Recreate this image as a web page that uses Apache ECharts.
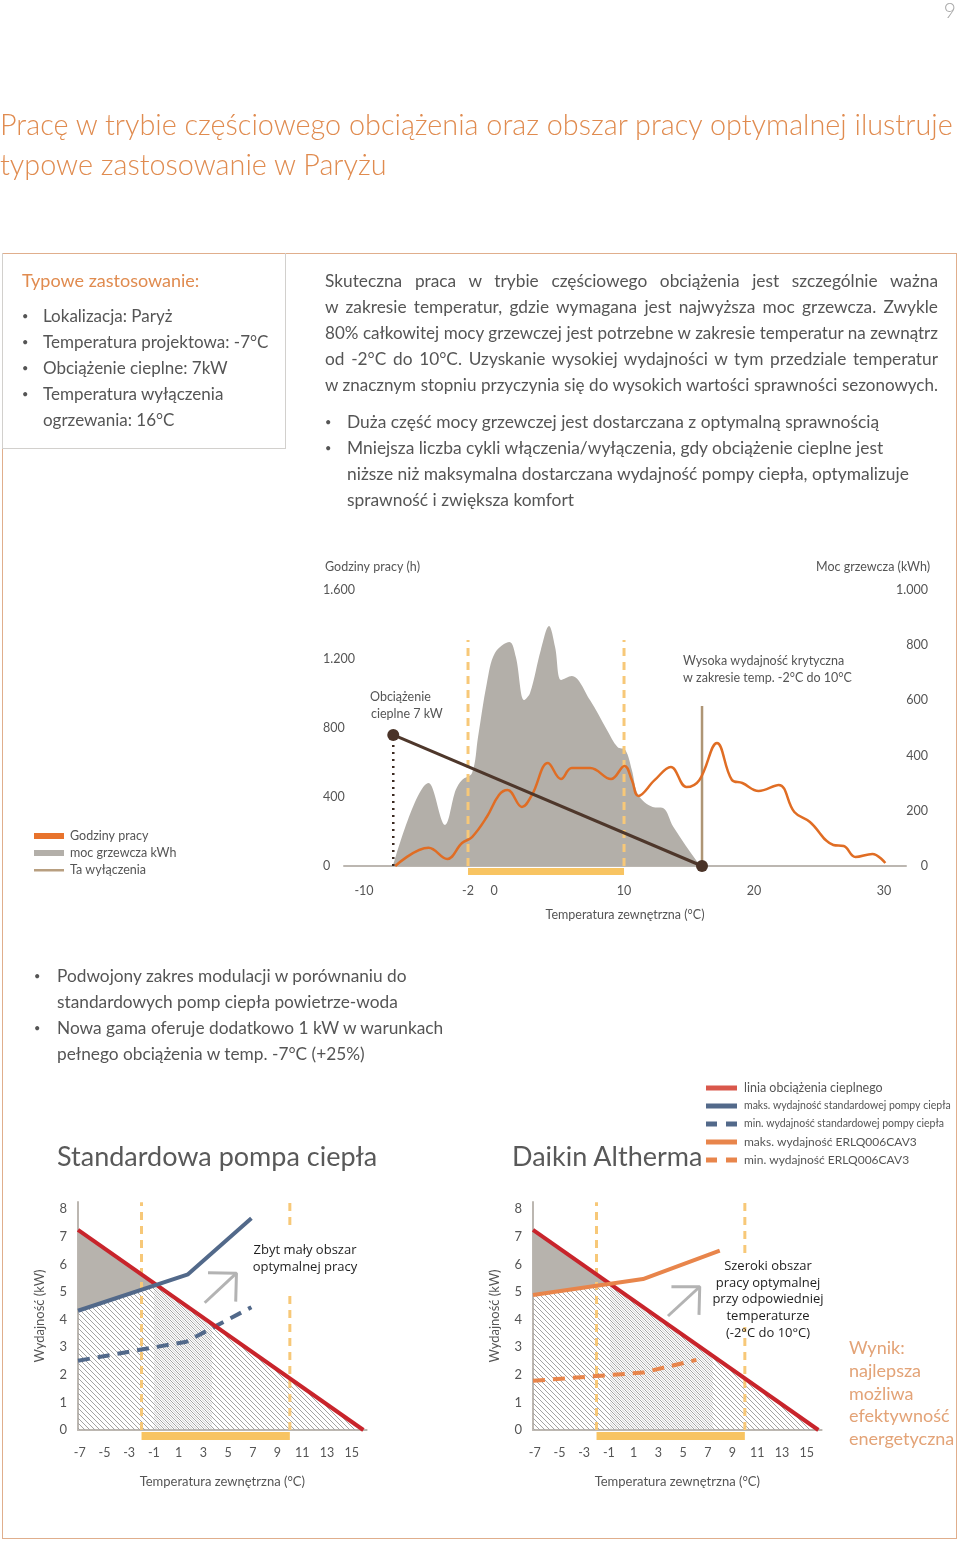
<!DOCTYPE html>
<html><head><meta charset="utf-8">
<script src="https://cdn.jsdelivr.net/npm/echarts@6.0.0/dist/echarts.min.js"></script>
<style>
html,body{margin:0;padding:0;background:#fff;}
#page{position:relative;width:960px;height:1546px;overflow:hidden;font-family:Lato,'Open Sans',sans-serif;color:#555;}
#chart{position:absolute;left:0;top:0;width:960px;height:1546px;}
.t{position:absolute;white-space:nowrap;}
.j{position:absolute;white-space:nowrap;text-align:justify;text-align-last:justify;width:613px;left:325px;font-size:17.3px;line-height:26px;}
.b{position:absolute;font-size:11px;}
</style></head><body><div id="page">
<div id="chart"></div>
<div style="position:absolute;left:2px;top:253px;width:955px;height:1286px;box-sizing:border-box;border:1.5px solid #e0ae8c;"></div>
<div style="position:absolute;left:2px;top:253px;width:284px;height:196px;box-sizing:border-box;border:1.5px solid #d2d0cd;border-top:none;"></div>

<div class="t" style="right:4px;top:-3px;font-size:21px;color:#a9a9a9;font-weight:300;">9</div>
<div class="t" style="left:0;top:104px;font-size:28.8px;line-height:40px;color:#e08b4f;font-weight:300;">Pracę w trybie częściowego obciążenia oraz obszar pracy optymalnej ilustruje</div>
<div class="t" style="left:0;top:144px;font-size:28.8px;line-height:40px;color:#e08b4f;font-weight:300;">typowe zastosowanie w Paryżu</div>

<div class="t" style="left:22px;top:267px;font-size:18px;line-height:26px;color:#e08b4f;">Typowe zastosowanie:</div>
<div style="position:absolute;left:22px;top:303px;font-size:17px;line-height:26px;">
<div style="position:relative;padding-left:21px;"><span class="b" style="left:0;">•</span>Lokalizacja: Paryż</div>
<div style="position:relative;padding-left:21px;"><span class="b" style="left:0;">•</span>Temperatura projektowa: -7°C</div>
<div style="position:relative;padding-left:21px;"><span class="b" style="left:0;">•</span>Obciążenie cieplne: 7kW</div>
<div style="position:relative;padding-left:21px;"><span class="b" style="left:0;">•</span>Temperatura wyłączenia</div>
<div style="position:relative;padding-left:21px;">ogrzewania: 16°C</div>
</div>

<div class="j" style="top:268px;">Skuteczna praca w trybie częściowego obciążenia jest szczególnie ważna</div>
<div class="j" style="top:294px;">w zakresie temperatur, gdzie wymagana jest najwyższa moc grzewcza. Zwykle</div>
<div class="j" style="top:320px;">80% całkowitej mocy grzewczej jest potrzebne w zakresie temperatur na zewnątrz</div>
<div class="j" style="top:346px;">od -2°C do 10°C. Uzyskanie wysokiej wydajności w tym przedziale temperatur</div>
<div class="j" style="top:372px;">w znacznym stopniu przyczynia się do wysokich wartości sprawności sezonowych.</div>

<div style="position:absolute;left:325px;top:409px;font-size:17.4px;line-height:26px;">
<div style="position:relative;padding-left:22px;"><span class="b" style="left:0;">•</span>Duża część mocy grzewczej jest dostarczana z optymalną sprawnością</div>
<div style="position:relative;padding-left:22px;"><span class="b" style="left:0;">•</span>Mniejsza liczba cykli włączenia/wyłączenia, gdy obciążenie cieplne jest</div>
<div style="position:relative;padding-left:22px;">niższe niż maksymalna dostarczana wydajność pompy ciepła, optymalizuje</div>
<div style="position:relative;padding-left:22px;">sprawność i zwiększa komfort</div>
</div>

<div style="position:absolute;left:34px;top:963px;font-size:17.3px;line-height:26px;">
<div style="position:relative;padding-left:23px;"><span class="b" style="left:0;">•</span>Podwojony zakres modulacji w porównaniu do</div>
<div style="position:relative;padding-left:23px;">standardowych pomp ciepła powietrze-woda</div>
<div style="position:relative;padding-left:23px;"><span class="b" style="left:0;">•</span>Nowa gama oferuje dodatkowo 1 kW w warunkach</div>
<div style="position:relative;padding-left:23px;">pełnego obciążenia w temp. -7°C (+25%)</div>
</div>

<div class="t" style="left:57px;top:1139px;font-size:27px;line-height:34px;color:#595959;">Standardowa pompa ciepła</div>
<div class="t" style="left:512px;top:1139px;font-size:27px;line-height:34px;color:#595959;">Daikin Altherma</div>
<div class="t" style="left:849px;top:1336px;font-size:18px;line-height:22.75px;color:#e3a377;">Wynik:<br>najlepsza<br>możliwa<br>efektywność<br>energetyczna</div>
</div>
<script>
// fit justified paragraph lines into their 613px column
document.querySelectorAll('.j').forEach(el=>{
  el.style.width='auto'; el.style.display='inline-block'; el.style.textAlignLast='auto';
  const w = el.offsetWidth;
  if (w > 611) el.style.fontSize = (17.3*611/w).toFixed(2)+'px';
  el.style.width='613px'; el.style.display='block'; el.style.textAlignLast='justify';
});

// ---------- main chart data ----------
const mainXTicks = [-10, -2, 0, 10, 20, 30];
const heatingKWh = [[-7.77,0],[-5.03,301],[-3.77,149],[-2.95,275],[-2.46,312],[-1.69,337],[-1.23,467],[-0.55,663],[0.07,772],[1.19,812],[1.68,757],[2.31,601],[2.77,627],[3.6,783],[4.23,870],[4.7,793],[5.17,674],[5.98,688],[7.38,601],[8.69,493],[9.5,431],[10.1,420],[10.6,348],[11.1,257],[12.2,214],[13.0,210],[13.8,141],[15.7,11],[16,0]];
const operatingHours = [[-7.6,0],[-5.03,106],[-3.6,41],[-2.46,133],[-1.69,168],[-0.56,284],[0.38,412],[1.04,441],[2.15,342],[2.92,412],[4.15,597],[5.15,504],[5.98,568],[7.4,568],[9.0,504],[10.04,580],[10.6,499],[11.1,406],[12.37,499],[13.6,574],[14.8,458],[15.8,499],[17.15,713],[18.3,499],[19.1,481],[20.35,435],[21.9,470],[23.1,313],[24.3,255],[26.1,122],[26.9,116],[27.8,52],[29.1,70],[30.1,17]];
const heatLoad7kW = [[-7.75,760],[16,0]];
const optimalRange = [-2, 10];
const optimalDashTop = 1310;
const cutoffTemp = 16;
const cutoffTop = 928;

// ---------- bottom charts data ----------
const bottomXTicks = [-7,-5,-3,-1,1,3,5,7,9,11,13,15];
const bottomYTicks = [0,1,2,3,4,5,6,7,8];
const loadLine = [[-7.14,7.25],[15.95,0]];
const stdMax = [[-7.14,4.32],[1.76,5.64],[6.89,7.67]];
const stdMin = [[-7.14,2.51],[1.63,3.2],[6.89,4.45]];
const daikinMax = [[-7.14,4.89],[1.76,5.47],[7.97,6.5]];
const daikinMin = [[-7.14,1.78],[1.76,2.08],[6.08,2.54]];
const stdArrowShaft = [[3.11,4.61],[5.68,5.68]];
const stdArrowHead = [[3.38,5.7],[5.68,5.68],[5.62,4.65]];
const daikinArrowShaft = [[3.78,4.13],[6.35,5.19]];
const daikinArrowHead = [[4.06,5.19],[6.35,5.19],[6.29,4.17]];
const stdDashGap = [5.07, 7.43];
const daikinDashGap = [3.73, 6.41];
const stdDenseBand = [-1, 3.7];
const daikinDenseBand = [-0.9, 7.4];
const bottomDashTop = 8.25;

// ---------- helpers ----------
const FONT = 'Lato';
function evalPL(arr, t){
  if (t < arr[0][0]-1e-9 || t > arr[arr.length-1][0]+1e-9) return null;
  for (let i=0;i<arr.length-1;i++){
    const a=arr[i], b=arr[i+1];
    if (t>=a[0]-1e-9 && t<=b[0]+1e-9){ const f=(t-a[0])/(b[0]-a[0]); return a[1]+f*(b[1]-a[1]); }
  }
  return arr[arr.length-1][1];
}
function breakpoints(load, cap){
  const ts = new Set();
  load.forEach(p=>ts.add(p[0])); cap.forEach(p=>ts.add(p[0]));
  for (let i=0;i<load.length-1;i++) for (let j=0;j<cap.length-1;j++){
    const [a,b]=[load[i],load[i+1]], [c,d]=[cap[j],cap[j+1]];
    const s1=(b[1]-a[1])/(b[0]-a[0]), s2=(d[1]-c[1])/(d[0]-c[0]);
    if (Math.abs(s1-s2)<1e-9) continue;
    const t=(c[1]-s2*c[0]-(a[1]-s1*a[0]))/(s1-s2);
    if (t>=Math.max(a[0],c[0]) && t<=Math.min(b[0],d[0])) ts.add(t);
  }
  return [...ts].sort((x,y)=>x-y).filter(t=>t>=load[0][0] && t<=load[load.length-1][0]);
}
function topBoundary(load, cap){
  return breakpoints(load, cap).map(t=>{ const l=evalPL(load,t), c=evalPL(cap,t); return [t, c===null?l:Math.min(l,c)]; });
}
function hatchPolygon(load, cap){
  const top = topBoundary(load, cap);
  return [[top[0][0],0], ...top, [top[top.length-1][0],0]];
}
function bandPolygon(load, cap, band){
  const top = topBoundary(load, cap);
  const inner = top.filter(p=>p[0]>band[0] && p[0]<band[1]);
  const f = t=>{ const l=evalPL(load,t), c=evalPL(cap,t); return c===null?l:Math.min(l,c); };
  return [[band[0],0],[band[0],f(band[0])], ...inner, [band[1],f(band[1])],[band[1],0]];
}
function greyPolygon(load, cap){
  const ts = breakpoints(load, cap).filter(t=>{ const c=evalPL(cap,t); return c!==null && evalPL(load,t) >= c-1e-6; });
  const upper = ts.map(t=>[t, evalPL(load,t)]);
  const lower = ts.slice().reverse().map(t=>[t, evalPL(cap,t)]);
  return upper.concat(lower);
}
function makeHatch(offset, color, width){
  const s=5, c=document.createElement('canvas'); c.width=s; c.height=s;
  const ctx=c.getContext('2d'); ctx.strokeStyle=color; ctx.lineWidth=width;
  for (let k=-1;k<=1;k++){ ctx.beginPath(); ctx.moveTo(k*s+offset-1,-1); ctx.lineTo(k*s+offset+s+1,s+1); ctx.stroke(); }
  return c;
}
const hatch1 = makeHatch(0, '#a3a3a3', 1);
const hatch2 = makeHatch(2.5, '#b9b9b9', 0.8);

function polySeries(xi, yi, pts, style, z){
  return {type:'custom', xAxisIndex:xi, yAxisIndex:yi, z:z, silent:true, clip:false, data:[[pts[0][0], pts[0][1]]],
    renderItem:(params, api)=>({type:'polygon', shape:{points: pts.map(p=>api.coord(p))}, style:style})};
}
function barSeries(xi, yi, range, off, h, color, z){
  return {type:'custom', xAxisIndex:xi, yAxisIndex:yi, z:z, silent:true, clip:false, data:[[range[0], range[1]]],
    renderItem:(params, api)=>{ const p1=api.coord([api.value(0),0]), p2=api.coord([api.value(1),0]);
      return {type:'rect', shape:{x:p1[0], y:p1[1]+off, width:p2[0]-p1[0], height:h}, style:{fill:color}}; }};
}
function lineSeries(xi, yi, data, color, width, type, z, extra){
  return Object.assign({type:'line', xAxisIndex:xi, yAxisIndex:yi, data:data, z:z, silent:true, animation:false,
    symbol:'none', lineStyle:{color:color, width:width, type:type||'solid', cap:'butt'}}, extra||{});
}
function T(x, y, text, o){
  o = o||{};
  return {type:'text', x:x, y:y, silent:true, z:100, style:{text:text, fill:o.fill||'#555', font:(o.weight||'normal')+' '+(o.size||12)+'px '+(o.family||FONT),
    textAlign:o.align||'left', textVerticalAlign:'middle', align:o.align||'left', verticalAlign:'middle'}};
}
function R(x, y, w, h, fill){ return {type:'rect', silent:true, z:100, shape:{x:x,y:y,width:w,height:h}, style:{fill:fill}}; }
function fmtThousands(v){ return v>=1000 ? Math.floor(v/1000)+'.'+String(v%1000).padStart(3,'0') : String(v); }

const YELLOW = '#f8c462', YDASH = '#f7c878', RED = '#c8242b', BLUE = '#52698a', ORANGE = '#e8854b';
const axisGrey = '#bcb7b1';

// ---------- axes ----------
const bottomX = gi => ({type:'value', gridIndex:gi, min:-7.14, max:16.21,
  axisLine:{show:true, onZero:false, lineStyle:{color:axisGrey, width:2}}, axisTick:{show:false}, splitLine:{show:false},
  axisLabel:{customValues:bottomXTicks, margin:16, color:'#555', fontSize:12.5, fontFamily:FONT},
  name:'Temperatura zewnętrzna (°C)', nameLocation:'middle', nameGap:45, nameTextStyle:{color:'#555', fontSize:13, fontFamily:FONT}});
const bottomY = gi => ({type:'value', gridIndex:gi, min:0, max:8.26,
  axisLine:{show:true, onZero:false, lineStyle:{color:axisGrey, width:2}}, axisTick:{show:false}, splitLine:{show:false},
  axisLabel:{customValues:bottomYTicks, margin:11, color:'#555', fontSize:13, fontFamily:FONT},
  name:'Wydajność (kW)', nameLocation:'middle', nameRotate:90, nameGap:32, nameTextStyle:{color:'#555', fontSize:13, fontFamily:FONT}});

function bottomSeries(xi, yi, maxL, minL, maxColor, shaft, head, gap, band){
  const top = bottomDashTop;
  return [
    polySeries(xi, yi, hatchPolygon(loadLine, maxL), {fill:{image:hatch1, repeat:'repeat'}}, 1),
    polySeries(xi, yi, bandPolygon(loadLine, maxL, band), {fill:{image:hatch2, repeat:'repeat'}}, 2),
    polySeries(xi, yi, greyPolygon(loadLine, maxL), {fill:'#b7b3ad'}, 3),
    lineSeries(xi, yi, [[optimalRange[0],0],[optimalRange[0],top]], YDASH, 3, [8,6], 4),
    lineSeries(xi, yi, [[optimalRange[1],0],[optimalRange[1],gap[0]]], YDASH, 3, [8,6], 4),
    lineSeries(xi, yi, [[optimalRange[1],gap[1]],[optimalRange[1],top]], YDASH, 3, [8,6], 4),
    barSeries(xi, yi, optimalRange, 2, 8, YELLOW, 4),
    lineSeries(xi, yi, shaft, '#b3b3b3', 3, 'solid', 5),
    lineSeries(xi, yi, head, '#b3b3b3', 3, 'solid', 5),
    lineSeries(xi, yi, minL, maxColor, 4, [12,8], 6),
    lineSeries(xi, yi, loadLine, RED, 4, 'solid', 7),
    lineSeries(xi, yi, maxL, maxColor, 4, 'solid', 8)
  ];
}

const option = {
  animation:false,
  grid:[
    {left:344, top:590, width:562, height:276},
    {left:78, top:1202, width:288.6, height:228},
    {left:533, top:1202, width:288.6, height:228}
  ],
  xAxis:[
    {type:'value', gridIndex:0, min:-11.54, max:31.69,
     axisLine:{show:true, onZero:false, lineStyle:{color:axisGrey, width:2}}, axisTick:{show:false}, splitLine:{show:false},
     axisLabel:{customValues:mainXTicks, margin:18, color:'#555', fontSize:12.5, fontFamily:FONT},
     name:'Temperatura zewnętrzna (°C)', nameLocation:'middle', nameGap:42, nameTextStyle:{color:'#555', fontSize:12.5, fontFamily:FONT}},
    bottomX(1), bottomX(2)
  ],
  yAxis:[
    {type:'value', gridIndex:0, min:0, max:1600, interval:400, position:'left',
     axisLine:{show:false, onZero:false}, axisTick:{show:false}, splitLine:{show:false},
     axisLabel:{align:'left', margin:21, color:'#555', fontSize:12.5, fontFamily:FONT, formatter:fmtThousands}},
    {type:'value', gridIndex:0, min:0, max:1000, interval:200, position:'right',
     axisLine:{show:false, onZero:false}, axisTick:{show:false}, splitLine:{show:false},
     axisLabel:{align:'right', margin:22, color:'#555', fontSize:12.5, fontFamily:FONT, formatter:fmtThousands}},
    bottomY(1), bottomY(2)
  ],
  series:[
    lineSeries(0, 1, heatingKWh, '#b3afa9', 0, 'solid', 1, {smooth:0.35, areaStyle:{color:'#b3afa9', opacity:1}}),
    lineSeries(0, 0, [[optimalRange[0],0],[optimalRange[0],optimalDashTop]], YDASH, 3, [8,6], 2),
    lineSeries(0, 0, [[optimalRange[1],0],[optimalRange[1],optimalDashTop]], YDASH, 3, [8,6], 2),
    barSeries(0, 0, optimalRange, 2, 7, YELLOW, 2),
    lineSeries(0, 0, [[cutoffTemp,0],[cutoffTemp,cutoffTop]], '#ae9575', 2.5, 'solid', 3),
    lineSeries(0, 0, operatingHours, '#e06d24', 2.5, 'solid', 4, {smooth:0.4}),
    lineSeries(0, 0, [[heatLoad7kW[0][0],0],heatLoad7kW[0]], '#3b2a21', 2.5, [2,5], 5),
    lineSeries(0, 0, heatLoad7kW, '#4e372b', 3, 'solid', 6, {symbol:'circle', symbolSize:12, showSymbol:true, itemStyle:{color:'#4a3328'}}),
    ...bottomSeries(1, 2, stdMax, stdMin, BLUE, stdArrowShaft, stdArrowHead, stdDashGap, stdDenseBand),
    ...bottomSeries(2, 3, daikinMax, daikinMin, ORANGE, daikinArrowShaft, daikinArrowHead, daikinDashGap, daikinDenseBand)
  ],
  graphic:{elements:[
    T(325, 567, 'Godziny pracy (h)', {size:12.5}),
    T(930, 567, 'Moc grzewcza (kWh)', {align:'right', size:12.5}),
    T(370, 697, 'Obciążenie', {size:12.5}),
    T(371, 714, 'cieplne 7 kW', {size:12.5}),
    T(683, 661, 'Wysoka wydajność krytyczna', {size:12.5}),
    T(683, 678, 'w zakresie temp. -2°C do 10°C', {size:12.5}),
    R(34, 833, 30, 6, '#e8732c'), T(70, 836, 'Godziny pracy', {size:12.5}),
    R(34, 850, 30, 6, '#b3afa9'), T(70, 853, 'moc grzewcza kWh', {size:12.5}),
    R(34, 869, 30, 2.5, '#b89f80'), T(70, 870, 'Ta wyłączenia', {size:12.5}),
    R(706, 1085.5, 31, 5, '#d9574b'), T(744, 1088, 'linia obciążenia cieplnego', {size:12.5}),
    R(706, 1103.5, 31, 5, BLUE), T(744, 1106, 'maks. wydajność standardowej pompy ciepła', {size:10.5}),
    R(706, 1121.5, 11, 5, BLUE), R(726, 1121.5, 11, 5, BLUE), T(744, 1124, 'min. wydajność standardowej pompy ciepła', {size:10.5}),
    R(706, 1139.5, 31, 5, ORANGE), T(744, 1142, 'maks. wydajność ERLQ006CAV3', {size:12}),
    R(706, 1157.5, 11, 5, ORANGE), R(726, 1157.5, 11, 5, ORANGE), T(744, 1160, 'min. wydajność ERLQ006CAV3', {size:12}),
    T(305, 1250, 'Zbyt mały obszar', {align:'center', size:13, fill:'#1e1e1e', family:'Open Sans'}),
    T(305, 1267, 'optymalnej pracy', {align:'center', size:13, fill:'#1e1e1e', family:'Open Sans'}),
    T(768, 1266, 'Szeroki obszar', {align:'center', size:13, fill:'#1e1e1e', family:'Open Sans'}),
    T(768, 1283, 'pracy optymalnej', {align:'center', size:13, fill:'#1e1e1e', family:'Open Sans'}),
    T(768, 1299.5, 'przy odpowiedniej', {align:'center', size:13, fill:'#1e1e1e', family:'Open Sans'}),
    T(768, 1316, 'temperaturze', {align:'center', size:13, fill:'#1e1e1e', family:'Open Sans'}),
    T(768, 1333, '(-2°C do 10°C)', {align:'center', size:13, fill:'#1e1e1e', family:'Open Sans'})
  ]}
};
const chart = echarts.init(document.getElementById('chart'), null, {renderer:'canvas', width:960, height:1546});
chart.setOption(option);
</script>
</body></html>
